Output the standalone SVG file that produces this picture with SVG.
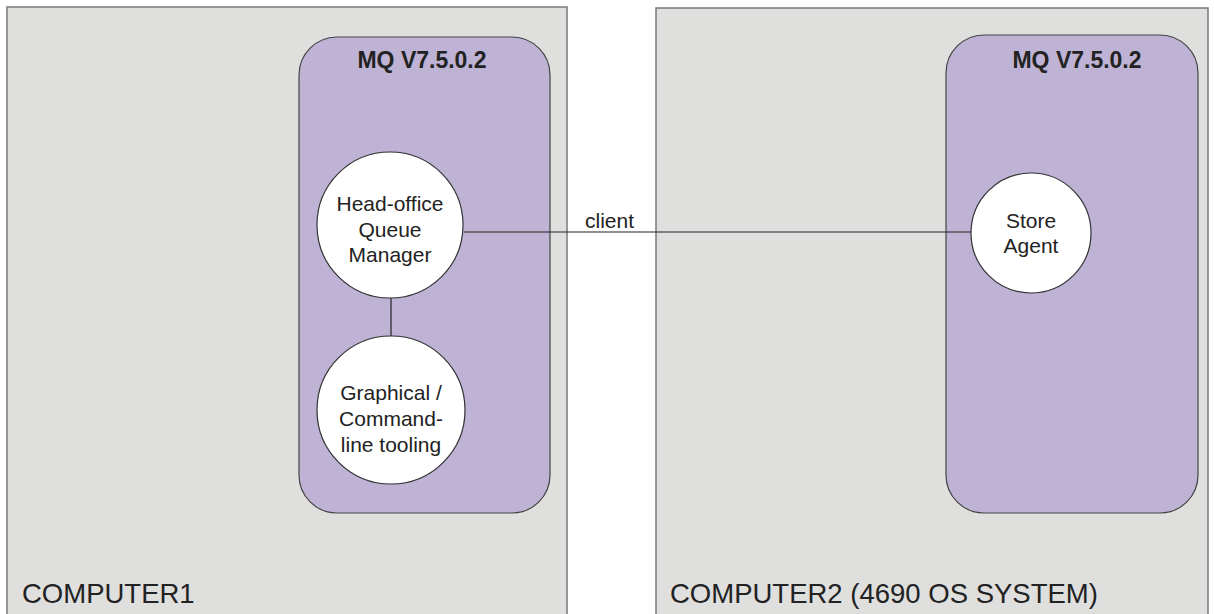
<svg xmlns="http://www.w3.org/2000/svg" width="1214" height="614" viewBox="0 0 1214 614">
<style>
.comp{fill:#dfdfde;stroke:#7a7a7a;stroke-width:1.5}
.mq{fill:#beb3d4;stroke:#444;stroke-width:1.2}
.node{fill:#fff;stroke:#333;stroke-width:1.2}
.t{font-family:"Liberation Sans",Arial,sans-serif;fill:#222}
.lbl{font-size:21px;text-anchor:middle}
.hd{font-size:23px;font-weight:bold;text-anchor:middle}
.cl{font-size:27.5px}
.conn{stroke:#222;stroke-width:1.2;fill:none}
</style>
<rect width="1214" height="614" fill="#fff"/>
<g id="computer1">
<rect class="comp" x="7" y="7" width="560" height="610"/>
<text class="t cl" x="22" y="603">COMPUTER1</text>
</g>
<g id="computer2">
<rect class="comp" x="656" y="8" width="552" height="610"/>
<text class="t cl" x="670" y="603">COMPUTER2 (4690 OS SYSTEM)</text>
</g>
<g id="mq1">
<rect class="mq" x="299" y="37" width="251" height="476" rx="38"/>
<text class="t hd" x="422" y="68">MQ V7.5.0.2</text>
</g>
<g id="mq2">
<rect class="mq" x="946" y="35" width="252" height="478" rx="38"/>
<text class="t hd" x="1077" y="68">MQ V7.5.0.2</text>
</g>
<g id="connectors">
<line class="conn" x1="464" y1="232" x2="971" y2="232"/>
<line class="conn" x1="391" y1="298" x2="391" y2="336"/>
<text class="t" x="585" y="228" font-size="21">client</text>
</g>
<g id="hqm">
<circle class="node" cx="390" cy="225" r="73"/>
<text class="t lbl" x="390" y="211">Head-office</text>
<text class="t lbl" x="390" y="237">Queue</text>
<text class="t lbl" x="390" y="262">Manager</text>
</g>
<g id="tooling">
<circle class="node" cx="391" cy="410" r="74"/>
<text class="t lbl" x="391" y="400">Graphical /</text>
<text class="t lbl" x="391" y="426">Command-</text>
<text class="t lbl" x="391" y="452">line tooling</text>
</g>
<g id="store">
<circle class="node" cx="1031" cy="233" r="60"/>
<text class="t lbl" x="1031" y="228">Store</text>
<text class="t lbl" x="1031" y="253">Agent</text>
</g>
</svg>
